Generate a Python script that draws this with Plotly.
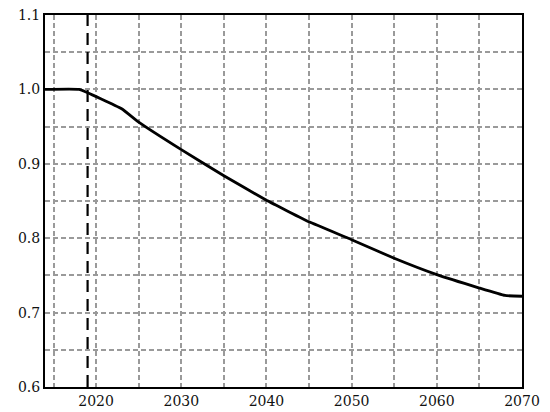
import plotly.graph_objects as go

years = [2014, 2018, 2023, 2025, 2030, 2035, 2040, 2045, 2050, 2055, 2060, 2065, 2068, 2070]
values = [1.0, 1.0, 0.974, 0.956, 0.919, 0.884, 0.851, 0.822, 0.798, 0.773, 0.751, 0.733, 0.723, 0.722]
ref_year = 2019
x_ticks = [2020, 2030, 2040, 2050, 2060, 2070]
y_ticks = [0.6, 0.7, 0.8, 0.9, 1.0, 1.1]
y_tick_text = ["0.6", "0.7", "0.8", "0.9", "1.0", "1.1"]

grid = dict(showgrid=True, gridcolor="#9a9a9a", griddash="5px,3px", gridwidth=1.5)

fig = go.Figure()
fig.add_trace(go.Scatter(x=years, y=values, mode="lines",
                         line=dict(color="black", width=2.8, shape="spline", smoothing=0.3),
                         showlegend=False))
fig.add_trace(go.Scatter(x=[ref_year, ref_year], y=[0.6, 1.1], mode="lines",
                         line=dict(color="black", width=2.2, dash="12px,7px"),
                         showlegend=False))

fig.update_layout(
    width=550, height=412,
    margin=dict(l=45, r=28, t=15, b=25, autoexpand=False),
    paper_bgcolor="white", plot_bgcolor="white",
    font=dict(family="DejaVu Serif", size=14, color="#111"),
)
fig.update_xaxes(range=[2014, 2070], tickvals=x_ticks, **grid,
                 minor=dict(dtick=5, tick0=2015, **grid),
                 showline=True, linecolor="black", linewidth=2, mirror=True,
                 ticks="", zeroline=False, automargin=False)
fig.update_yaxes(range=[0.6, 1.1], tickvals=y_ticks, ticktext=y_tick_text, **grid,
                 minor=dict(dtick=0.05, tick0=0.6, **grid),
                 showline=True, linecolor="black", linewidth=2, mirror=True,
                 ticks="", zeroline=False, automargin=False)

fig.write_html("out.html")
